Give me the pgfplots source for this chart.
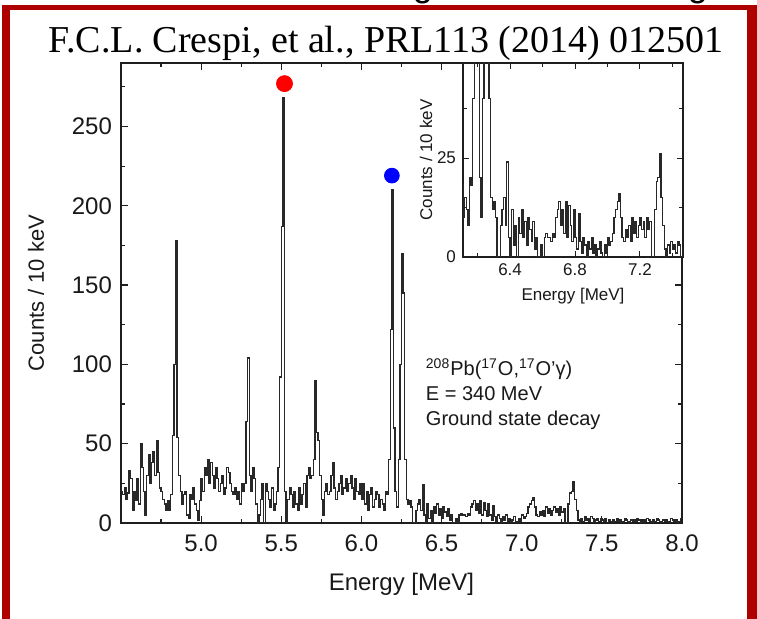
\documentclass[border=0pt]{standalone}
\usepackage{pgfplots}
\pgfplotsset{compat=1.18}
\usepackage{pgfplotstable}
\usepackage{fontspec}
\setmainfont{Liberation Sans}
\newfontfamily\titlefont{Liberation Serif}
\definecolor{framered}{RGB}{175,0,0}
\definecolor{histgray}{RGB}{40,40,40}
\definecolor{axgray}{RGB}{30,30,30}
\pgfplotstableread[row sep=\\]{
E c\\
4.50 20\\ 4.51 18\\ 4.52 22\\ 4.53 15\\ 4.54 19\\ 4.55 33\\ 4.56 28\\ 4.57 8\\ 4.58 20\\ 4.59 14\\
4.60 28\\ 4.61 12\\ 4.62 50\\ 4.63 35\\ 4.64 20\\ 4.65 5\\ 4.66 30\\ 4.67 43\\ 4.68 25\\ 4.69 38\\
4.70 45\\ 4.71 30\\ 4.72 52\\ 4.73 32\\ 4.74 22\\ 4.75 20\\ 4.76 15\\ 4.77 12\\ 4.78 8\\ 4.79 14\\
4.80 8\\ 4.81 18\\ 4.82 55\\ 4.83 100\\ 4.84 178\\ 4.85 54\\ 4.86 30\\ 4.87 20\\ 4.88 12\\ 4.89 18\\
4.90 20\\ 4.91 5\\ 4.92 3\\ 4.93 18\\ 4.94 15\\ 4.95 22\\ 4.96 12\\ 4.97 8\\ 4.98 2\\ 4.99 14\\
5.00 28\\ 5.01 20\\ 5.02 35\\ 5.03 30\\ 5.04 40\\ 5.05 25\\ 5.06 38\\ 5.07 30\\ 5.08 22\\ 5.09 35\\
5.10 28\\ 5.11 20\\ 5.12 25\\ 5.13 30\\ 5.14 18\\ 5.15 22\\ 5.16 35\\ 5.17 32\\ 5.18 25\\ 5.19 20\\
5.20 18\\ 5.21 22\\ 5.22 15\\ 5.23 20\\ 5.24 12\\ 5.25 25\\ 5.26 20\\ 5.27 25\\ 5.28 64\\ 5.29 104\\
5.30 30\\ 5.31 20\\ 5.32 35\\ 5.33 28\\ 5.34 12\\ 5.35 0\\ 5.36 5\\ 5.37 15\\ 5.38 25\\ 5.39 0\\
5.40 25\\ 5.41 20\\ 5.42 15\\ 5.43 10\\ 5.44 22\\ 5.45 8\\ 5.46 12\\ 5.47 20\\ 5.48 35\\ 5.49 92\\
5.50 187\\ 5.51 268\\ 5.52 20\\ 5.53 0\\ 5.54 15\\ 5.55 22\\ 5.56 18\\ 5.57 10\\ 5.58 20\\ 5.59 12\\
5.60 8\\ 5.61 22\\ 5.62 12\\ 5.63 18\\ 5.64 25\\ 5.65 10\\ 5.66 30\\ 5.67 35\\ 5.68 28\\ 5.69 30\\
5.70 40\\ 5.71 90\\ 5.72 57\\ 5.73 52\\ 5.74 30\\ 5.75 15\\ 5.76 5\\ 5.77 20\\ 5.78 25\\ 5.79 18\\
5.80 20\\ 5.81 30\\ 5.82 38\\ 5.83 22\\ 5.84 15\\ 5.85 20\\ 5.86 25\\ 5.87 30\\ 5.88 18\\ 5.89 22\\
5.90 28\\ 5.91 20\\ 5.92 25\\ 5.93 30\\ 5.94 22\\ 5.95 15\\ 5.96 28\\ 5.97 20\\ 5.98 18\\ 5.99 25\\
6.00 15\\ 6.01 25\\ 6.02 12\\ 6.03 20\\ 6.04 8\\ 6.05 18\\ 6.06 22\\ 6.07 10\\ 6.08 15\\ 6.09 20\\
6.10 18\\ 6.11 10\\ 6.12 15\\ 6.13 12\\ 6.14 8\\ 6.15 20\\ 6.16 18\\ 6.17 40\\ 6.18 122\\ 6.19 210\\
6.20 60\\ 6.21 20\\ 6.22 10\\ 6.23 40\\ 6.24 100\\ 6.25 170\\ 6.26 145\\ 6.27 40\\ 6.28 15\\ 6.29 12\\
6.30 14\\ 6.31 10\\ 6.32 0\\ 6.33 0\\ 6.34 8\\ 6.35 12\\ 6.36 15\\ 6.37 8\\ 6.38 24\\ 6.39 5\\
6.40 0\\ 6.41 12\\ 6.42 3\\ 6.43 8\\ 6.44 0\\ 6.45 10\\ 6.46 6\\ 6.47 12\\ 6.48 5\\ 6.49 9\\
6.50 3\\ 6.51 10\\ 6.52 7\\ 6.53 4\\ 6.54 9\\ 6.55 2\\ 6.56 5\\ 6.57 0\\ 6.58 0\\ 6.59 3\\
6.60 0\\ 6.61 5\\ 6.62 6\\ 6.63 5\\ 6.64 5\\ 6.65 4\\ 6.66 6\\ 6.67 5\\ 6.68 10\\ 6.69 12\\
6.70 14\\ 6.71 8\\ 6.72 12\\ 6.73 6\\ 6.74 14\\ 6.75 5\\ 6.76 13\\ 6.77 8\\ 6.78 4\\ 6.79 12\\
6.80 5\\ 6.81 2\\ 6.82 11\\ 6.83 4\\ 6.84 1\\ 6.85 5\\ 6.86 3\\ 6.87 0\\ 6.88 4\\ 6.89 2\\
6.90 5\\ 6.91 1\\ 6.92 3\\ 6.93 0\\ 6.94 2\\ 6.95 4\\ 6.96 1\\ 6.97 0\\ 6.98 3\\ 6.99 1\\
7.00 5\\ 7.01 3\\ 7.02 4\\ 7.03 6\\ 7.04 10\\ 7.05 12\\ 7.06 14\\ 7.07 16\\ 7.08 10\\ 7.09 5\\
7.10 4\\ 7.11 7\\ 7.12 5\\ 7.13 8\\ 7.14 4\\ 7.15 10\\ 7.16 6\\ 7.17 9\\ 7.18 5\\ 7.19 8\\
7.20 10\\ 7.21 7\\ 7.22 9\\ 7.23 5\\ 7.24 10\\ 7.25 7\\ 7.26 9\\ 7.27 0\\ 7.28 0\\ 7.29 12\\
7.30 19\\ 7.31 20\\ 7.32 26\\ 7.33 15\\ 7.34 8\\ 7.35 2\\ 7.36 0\\ 7.37 3\\ 7.38 1\\ 7.39 4\\
7.40 2\\ 7.41 3\\ 7.42 1\\ 7.43 4\\ 7.44 3\\ 7.45 0\\ 7.46 2\\ 7.47 3\\ 7.48 1\\ 7.49 3\\
7.50 2\\ 7.51 1\\ 7.52 3\\ 7.53 0\\ 7.54 2\\ 7.55 1\\ 7.56 0\\ 7.57 2\\ 7.58 1\\ 7.59 3\\
7.60 1\\ 7.61 2\\ 7.62 0\\ 7.63 1\\ 7.64 3\\ 7.65 2\\ 7.66 1\\ 7.67 0\\ 7.68 2\\ 7.69 1\\
7.70 2\\ 7.71 1\\ 7.72 3\\ 7.73 2\\ 7.74 0\\ 7.75 1\\ 7.76 2\\ 7.77 1\\ 7.78 3\\ 7.79 2\\
7.80 1\\ 7.81 0\\ 7.82 2\\ 7.83 1\\ 7.84 3\\ 7.85 2\\ 7.86 1\\ 7.87 0\\ 7.88 2\\ 7.89 1\\
7.90 2\\ 7.91 1\\ 7.92 0\\ 7.93 3\\ 7.94 2\\ 7.95 1\\ 7.96 2\\ 7.97 0\\ 7.98 1\\ 7.99 3\\
8.00 3\\
}\spec
\begin{document}
\begin{tikzpicture}[x=0.5pt,y=-0.5pt]
\useasboundingbox (0,0) rectangle (757,619);
\fill[white] (0,0) rectangle (757,619);
% partial glyphs of a cut-off heading
\begin{scope}
\clip (0,0) rectangle (757,6);
\node[anchor=base, inner sep=0, font=\fontsize{18}{20}\selectfont] at (423,-3) {g};
\node[anchor=base, inner sep=0, font=\fontsize{18}{20}\selectfont] at (698,-3) {g};
\end{scope}
% red frame
\fill[framered] (2,5) rectangle (757,10.5);
\fill[framered] (2,5) rectangle (9.7,619);
\fill[framered] (747,5) rectangle (757,619);
% reference
\node[font=\titlefont\fontsize{19}{22}\selectfont, inner sep=0] at (386,43) {F.C.L. Crespi, et al., PRL113 (2014) 012501};

\begin{axis}[
  at={(60.5pt,-261.5pt)}, anchor=south west,
  scale only axis, width=280.5pt, height=230pt,
  xmin=4.5, xmax=8.0, ymin=0, ymax=290,
  xtick={5,5.5,6,6.5,7,7.5,8}, minor xtick={4.75,5.25,5.75,6.25,6.75,7.25,7.75},
  ytick={0,50,100,150,200,250}, minor ytick={25,75,125,175,225,275},
  tick align=inside,
  major tick length=3.5pt, minor tick length=2.2pt,
  /pgf/number format/assume math mode=true,
  tick label style={font=\fontsize{12}{14}\selectfont, text=black!90},
  xticklabel style={yshift=-2.5pt, /pgf/number format/.cd, fixed, fixed zerofill, precision=1},
  yticklabel style={xshift=-1pt},
  xlabel={Energy [MeV]}, ylabel={Counts / 10 keV},
  xlabel style={font=\fontsize{12}{14}\selectfont, text=black!90, yshift=-3.5pt},
  ylabel style={font=\fontsize{11}{14}\selectfont, text=black!90, yshift=7pt},
  axis line style={line width=0.8pt, axgray},
  every tick/.style={axgray, line width=0.6pt},
]
\addplot[const plot, histgray, line width=0.7pt] table[x=E, y=c] {\spec};
\addplot[only marks, mark=*, mark size=4pt, color=red] coordinates {(5.52,277)};
\addplot[only marks, mark=*, mark size=3.7pt, color=blue] coordinates {(6.19,219)};
\node[anchor=north west, inner sep=0, align=left, font=\fontsize{10}{12}\selectfont, text=black!90]
  at (axis cs:6.40,104) {\textsuperscript{208}Pb(\textsuperscript{17}O,\textsuperscript{17}O'γ)\\[0.5pt] E = 340 MeV\\[0.5pt] Ground state decay};
\end{axis}

\begin{axis}[
  at={(231.5pt,-128.5pt)}, anchor=south west,
  scale only axis, width=110pt, height=97pt,
  xmin=6.11, xmax=7.465, ymin=0, ymax=49,
  xtick={6.4,6.8,7.2}, minor xtick={6.2,6.6,7.0,7.4},
  ytick={0,25}, minor ytick={12.5,37.5},
  tick align=inside,
  major tick length=2.8pt, minor tick length=1.8pt,
  /pgf/number format/assume math mode=true,
  tick label style={font=\fontsize{8.5}{10}\selectfont, text=black!90},
  xticklabel style={/pgf/number format/.cd, fixed, fixed zerofill, precision=1},
  xlabel={Energy [MeV]}, ylabel={Counts / 10 keV},
  label style={font=\fontsize{8.5}{10}\selectfont, text=black!90},
  xlabel style={yshift=1pt},
  ylabel style={yshift=-4.5pt},
  axis line style={line width=0.8pt, axgray},
  every tick/.style={axgray, line width=0.5pt},
  axis background/.style={fill=white},
]
\addplot[const plot, histgray, line width=0.65pt] table[x=E, y=c] {\spec};
\end{axis}
\end{tikzpicture}
\end{document}
